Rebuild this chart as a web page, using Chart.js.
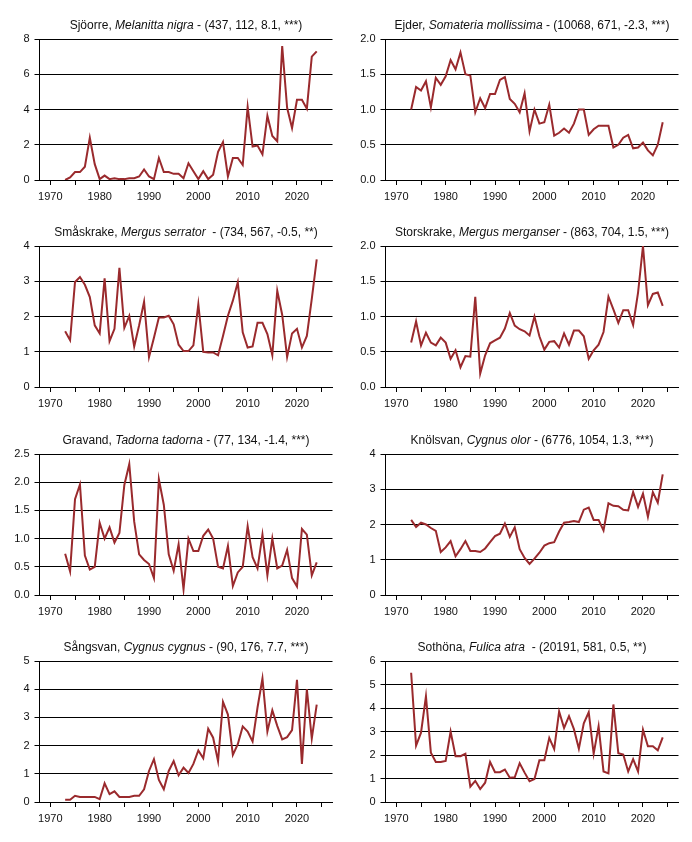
<!DOCTYPE html>
<html>
<head>
<meta charset="utf-8">
<script src="https://cdn.jsdelivr.net/npm/chart.js@4/dist/chart.umd.min.js"></script>
<style>
  html, body { margin: 0; padding: 0; background: #fff; }
  #page { position: relative; width: 692px; height: 842px; overflow: hidden; }
  .panel { position: absolute; width: 346px; height: 207px; }
  .panel canvas { position: absolute; left: 0; top: 0; }
  .title {
    position: absolute; left: 39px; width: 294px; top: 18px;
    font: 12px "Liberation Sans", Arial, sans-serif; line-height: 14px;
    color: #111; text-align: center; white-space: pre;
  }
</style>
</head>
<body>
<div id="page"></div>
<script>
// years on the x axis
const years = [
  1973, 1974, 1975, 1976, 1977, 1978, 1979, 1980, 1981, 1982,
  1983, 1984, 1985, 1986, 1987, 1988, 1989, 1990, 1991, 1992,
  1993, 1994, 1995, 1996, 1997, 1998, 1999, 2000, 2001, 2002,
  2003, 2004, 2005, 2006, 2007, 2008, 2009, 2010, 2011, 2012,
  2013, 2014, 2015, 2016, 2017, 2018, 2019, 2020, 2021, 2022,
  2023, 2024
];
const xTicks = [1970, 1975, 1980, 1985, 1990, 1995, 2000, 2005, 2010, 2015, 2020, 2025];

// index values per species
const sjoorre = [
  0.0, 0.15, 0.45, 0.45, 0.75, 2.4, 0.9, 0.05, 0.25, 0.05,
  0.1, 0.05, 0.05, 0.1, 0.1, 0.2, 0.6, 0.2, 0.05, 1.25,
  0.45, 0.45, 0.35, 0.35, 0.1, 0.95, 0.5, 0.05, 0.5, 0.05,
  0.3, 1.6, 2.15, 0.2, 1.25, 1.25, 0.85, 4.15, 1.9, 1.95,
  1.45, 3.65, 2.5, 2.2, 7.6, 4.1, 2.95, 4.55, 4.55, 4.05,
  7.0, 7.3
];
const ejder = [
  1.0, 1.32, 1.27, 1.4, 1.03, 1.45, 1.35, 1.47, 1.7, 1.57,
  1.81, 1.5, 1.48, 0.96, 1.16, 1.02, 1.22, 1.22, 1.42, 1.46,
  1.15, 1.08, 0.96, 1.23, 0.69, 1.0, 0.8, 0.82, 1.07, 0.63,
  0.67, 0.73, 0.67, 0.8, 1.0, 1.0, 0.64, 0.72, 0.77, 0.77,
  0.77, 0.46, 0.5, 0.6, 0.64, 0.45, 0.46, 0.53, 0.42, 0.35,
  0.5, 0.82
];
const smaskrake = [
  1.58, 1.33, 2.98, 3.12, 2.9, 2.55, 1.75, 1.52, 3.08, 1.3,
  1.65, 3.38, 1.68, 2.02, 1.15, 1.75, 2.42, 0.85, 1.4, 1.97,
  1.97, 2.02, 1.78, 1.2, 1.02, 1.02, 1.18, 2.35, 1.0, 0.98,
  0.98, 0.9, 1.45, 2.02, 2.45, 2.97, 1.55, 1.12, 1.15, 1.82,
  1.82, 1.5, 0.9, 2.73, 2.05, 0.85, 1.52, 1.65, 1.12, 1.45,
  2.5, 3.62
];
const storskrake = [
  0.63, 0.93, 0.59, 0.77, 0.63, 0.59, 0.7, 0.63, 0.4, 0.52,
  0.28, 0.44, 0.43, 1.28, 0.19, 0.45, 0.62, 0.66, 0.7, 0.83,
  1.05, 0.87, 0.82, 0.79, 0.73, 1.0, 0.72, 0.53, 0.64, 0.65,
  0.56, 0.76, 0.6, 0.8, 0.8, 0.72, 0.4, 0.52, 0.6, 0.78,
  1.28, 1.1, 0.91, 1.09, 1.09, 0.88, 1.34, 2.0, 1.16, 1.32,
  1.34, 1.15
];
const gravand = [
  0.73, 0.42, 1.7, 1.96, 0.7, 0.45, 0.5, 1.28, 1.0, 1.2,
  0.93, 1.1, 1.95, 2.32, 1.3, 0.72, 0.62, 0.55, 0.3, 2.05,
  1.6, 0.72, 0.43, 0.9, 0.1, 1.0, 0.78, 0.78, 1.05, 1.16,
  1.0, 0.5, 0.47, 0.87, 0.16, 0.4, 0.5, 1.22, 0.67, 0.47,
  1.07, 0.35, 1.0, 0.47, 0.52, 0.8, 0.3, 0.15, 1.17, 1.07,
  0.35, 0.58
];
const knolsvan = [
  2.13, 1.93, 2.05, 2.0, 1.9, 1.82, 1.22, 1.35, 1.53, 1.1,
  1.3, 1.53, 1.25, 1.25, 1.22, 1.32, 1.5, 1.67, 1.74, 2.03,
  1.65, 1.92, 1.3, 1.05, 0.88, 1.03, 1.2, 1.4, 1.47, 1.5,
  1.8, 2.05, 2.07, 2.1, 2.07, 2.42, 2.48, 2.13, 2.13, 1.83,
  2.6, 2.53, 2.52, 2.42, 2.4, 2.92, 2.5, 2.88, 2.22, 2.92,
  2.62, 3.42
];
const sangsvan = [
  0.08, 0.08, 0.22, 0.18, 0.18, 0.18, 0.18, 0.1, 0.66, 0.28,
  0.38, 0.18, 0.18, 0.18, 0.22, 0.22, 0.45, 1.1, 1.52, 0.78,
  0.45, 1.1, 1.45, 0.95, 1.22, 1.03, 1.35, 1.83, 1.55, 2.6,
  2.28, 1.45, 3.55, 3.1, 1.67, 2.05, 2.68, 2.5, 2.15, 3.35,
  4.38, 2.5, 3.25, 2.7, 2.22, 2.3, 2.55, 4.33, 1.35, 4.0,
  2.25, 3.45
];
const sothona = [
  5.5, 2.4, 2.95, 4.5, 2.1, 1.7, 1.7, 1.75, 3.0, 1.95,
  1.95, 2.05, 0.65, 0.9, 0.55, 0.82, 1.7, 1.27, 1.27, 1.38,
  1.03, 1.05, 1.65, 1.25, 0.88, 0.98, 1.78, 1.78, 2.73, 2.25,
  3.85, 3.15, 3.65, 3.1, 2.27, 3.35, 3.82, 2.05, 3.22, 1.3,
  1.22, 4.15, 2.08, 2.02, 1.3, 1.82, 1.3, 3.08, 2.37, 2.37,
  2.2, 2.75
];

// panel titles: common name, latin name, stats
const commonNames = ['Sjöorre', 'Ejder', 'Småskrake', 'Storskrake', 'Gravand', 'Knölsvan', 'Sångsvan', 'Sothöna'];
const latinNames = ['Melanitta nigra', 'Somateria mollissima', 'Mergus serrator', 'Mergus merganser',
                    'Tadorna tadorna', 'Cygnus olor', 'Cygnus cygnus', 'Fulica atra'];
const stats = [' - (437, 112, 8.1, ***)', ' - (10068, 671, -2.3, ***)', '  - (734, 567, -0.5, **)',
               ' - (863, 704, 1.5, ***)', ' - (77, 134, -1.4, ***)', ' - (6776, 1054, 1.3, ***)',
               ' - (90, 176, 7.7, ***)', '  - (20191, 581, 0.5, **)'];
const series = [sjoorre, ejder, smaskrake, storskrake, gravand, knolsvan, sangsvan, sothona];

// y axis per panel
const yMax = [8, 2, 4, 2, 2.5, 4, 5, 6];
const yStep = [2, 0.5, 1, 0.5, 0.5, 1, 1, 1];
const yDecimals = [0, 1, 0, 1, 1, 0, 0, 0];

const rowTops = [0, 207, 415, 622];
const FONT = { family: '"Liberation Sans", Arial, sans-serif', size: 11 };
const LINE_COLOR = '#9a2a2d';

const page = document.getElementById('page');

series.forEach((values, i) => {
  const panel = document.createElement('div');
  panel.className = 'panel';
  panel.style.left = (i % 2) * 346 + 'px';
  panel.style.top = rowTops[Math.floor(i / 2)] + 'px';

  const canvas = document.createElement('canvas');
  canvas.width = 346;
  canvas.height = 207;
  panel.appendChild(canvas);

  const title = document.createElement('div');
  title.className = 'title';
  title.appendChild(document.createTextNode(commonNames[i] + ', '));
  const it = document.createElement('i');
  it.textContent = latinNames[i];
  title.appendChild(it);
  title.appendChild(document.createTextNode(stats[i]));
  panel.appendChild(title);

  page.appendChild(panel);

  new Chart(canvas, {
    type: 'line',
    data: {
      datasets: [{
        data: years.map((yr, k) => ({ x: yr, y: values[k] })),
        borderColor: LINE_COLOR,
        borderWidth: 2,
        pointRadius: 0,
        tension: 0,
        fill: false
      }]
    },
    options: {
      responsive: false,
      animation: false,
      devicePixelRatio: 1,
      layout: { padding: { left: 0, right: 13.5, top: 39, bottom: 0 } },
      plugins: { legend: { display: false }, tooltip: { enabled: false }, title: { display: false } },
      scales: {
        x: {
          type: 'linear',
          min: 1967.8,
          max: 2027.2,
          afterBuildTicks: (scale) => { scale.ticks = xTicks.map(v => ({ value: v })); },
          afterFit: (scale) => { scale.height = 27; },
          ticks: {
            autoSkip: false,
            maxRotation: 0,
            padding: 5,
            color: '#111',
            font: FONT,
            callback: (v) => (v % 10 === 0 && v <= 2020 ? String(v) : '')
          },
          grid: { drawOnChartArea: false, drawTicks: true, tickLength: 5, color: '#000', lineWidth: 1 },
          border: { display: true, color: '#000', width: 1 }
        },
        y: {
          min: 0,
          max: yMax[i],
          afterFit: (scale) => { scale.width = 39.5; },
          ticks: {
            stepSize: yStep[i],
            padding: 5,
            color: '#111',
            font: FONT,
            callback: (v) => Number(v).toFixed(yDecimals[i])
          },
          grid: { color: '#000', lineWidth: 1, tickLength: 5 },
          border: { display: true, color: '#000', width: 1 }
        }
      }
    }
  });
});
</script>
</body>
</html>
